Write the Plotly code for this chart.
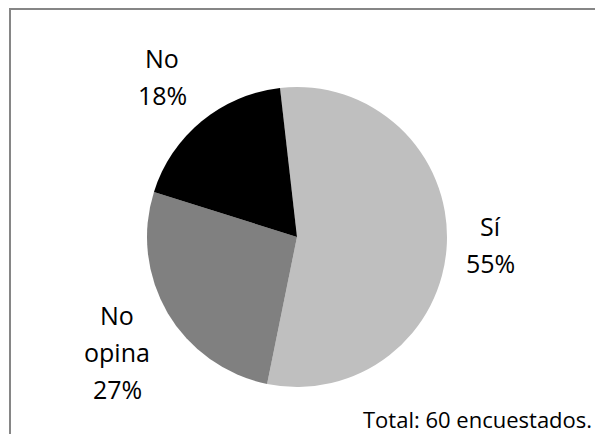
import plotly.graph_objects as go

categories = ["Sí", "No opina", "No"]
counts = [33, 16, 11]
colors = ["#BFBFBF", "#808080", "#000000"]
total_label = "Total: 60 encuestados."

W, H = 595, 434
total = sum(counts)
pcts = [round(100 * c / total) for c in counts]

FONT = "Open Sans, DejaVu Sans, sans-serif"

fig = go.Figure()
fig.add_trace(go.Pie(
    labels=categories,
    values=counts,
    sort=False,
    direction="clockwise",
    rotation=-6.5,
    marker=dict(colors=colors, line=dict(width=0)),
    textinfo="none",
    hoverinfo="label+percent",
    showlegend=False,
    domain=dict(x=[147 / W, 447 / W], y=[47 / H, 347 / H]),
))

# label block centres (pixels from top-left) and line pitch
label_pos = {"Sí": (490, 244), "No": (162, 76), "No opina": (117, 352)}
pitch = 37
for cat, p in zip(categories, pcts):
    x, y = label_pos[cat]
    lines = cat.split(" ") + [f"{p}%"]
    n = len(lines)
    for i, ln in enumerate(lines):
        yy = y + (i - (n - 1) / 2) * pitch
        fig.add_annotation(x=x / W, y=1 - yy / H, xref="paper", yref="paper",
                           text=ln, showarrow=False,
                           font=dict(family=FONT, size=25, color="#000000"),
                           xanchor="center", yanchor="middle")

fig.add_annotation(x=594 / W, y=1 - 419 / H, xref="paper", yref="paper",
                   text=total_label, showarrow=False,
                   font=dict(family=FONT, size=22, color="#000000"),
                   xanchor="right", yanchor="middle")

fig.add_shape(type="rect", xref="paper", yref="paper",
              x0=10 / W, x1=1.1, y0=-0.1, y1=1 - 9 / H,
              line=dict(color="#868686", width=2), fillcolor="rgba(0,0,0,0)")

fig.update_layout(width=W, height=H, margin=dict(l=0, r=0, t=0, b=0),
                  paper_bgcolor="white", plot_bgcolor="white")
fig.write_html("out.html", config={"displayModeBar": False},
               post_script="document.body.style.margin='0';document.body.style.overflow='hidden';")
